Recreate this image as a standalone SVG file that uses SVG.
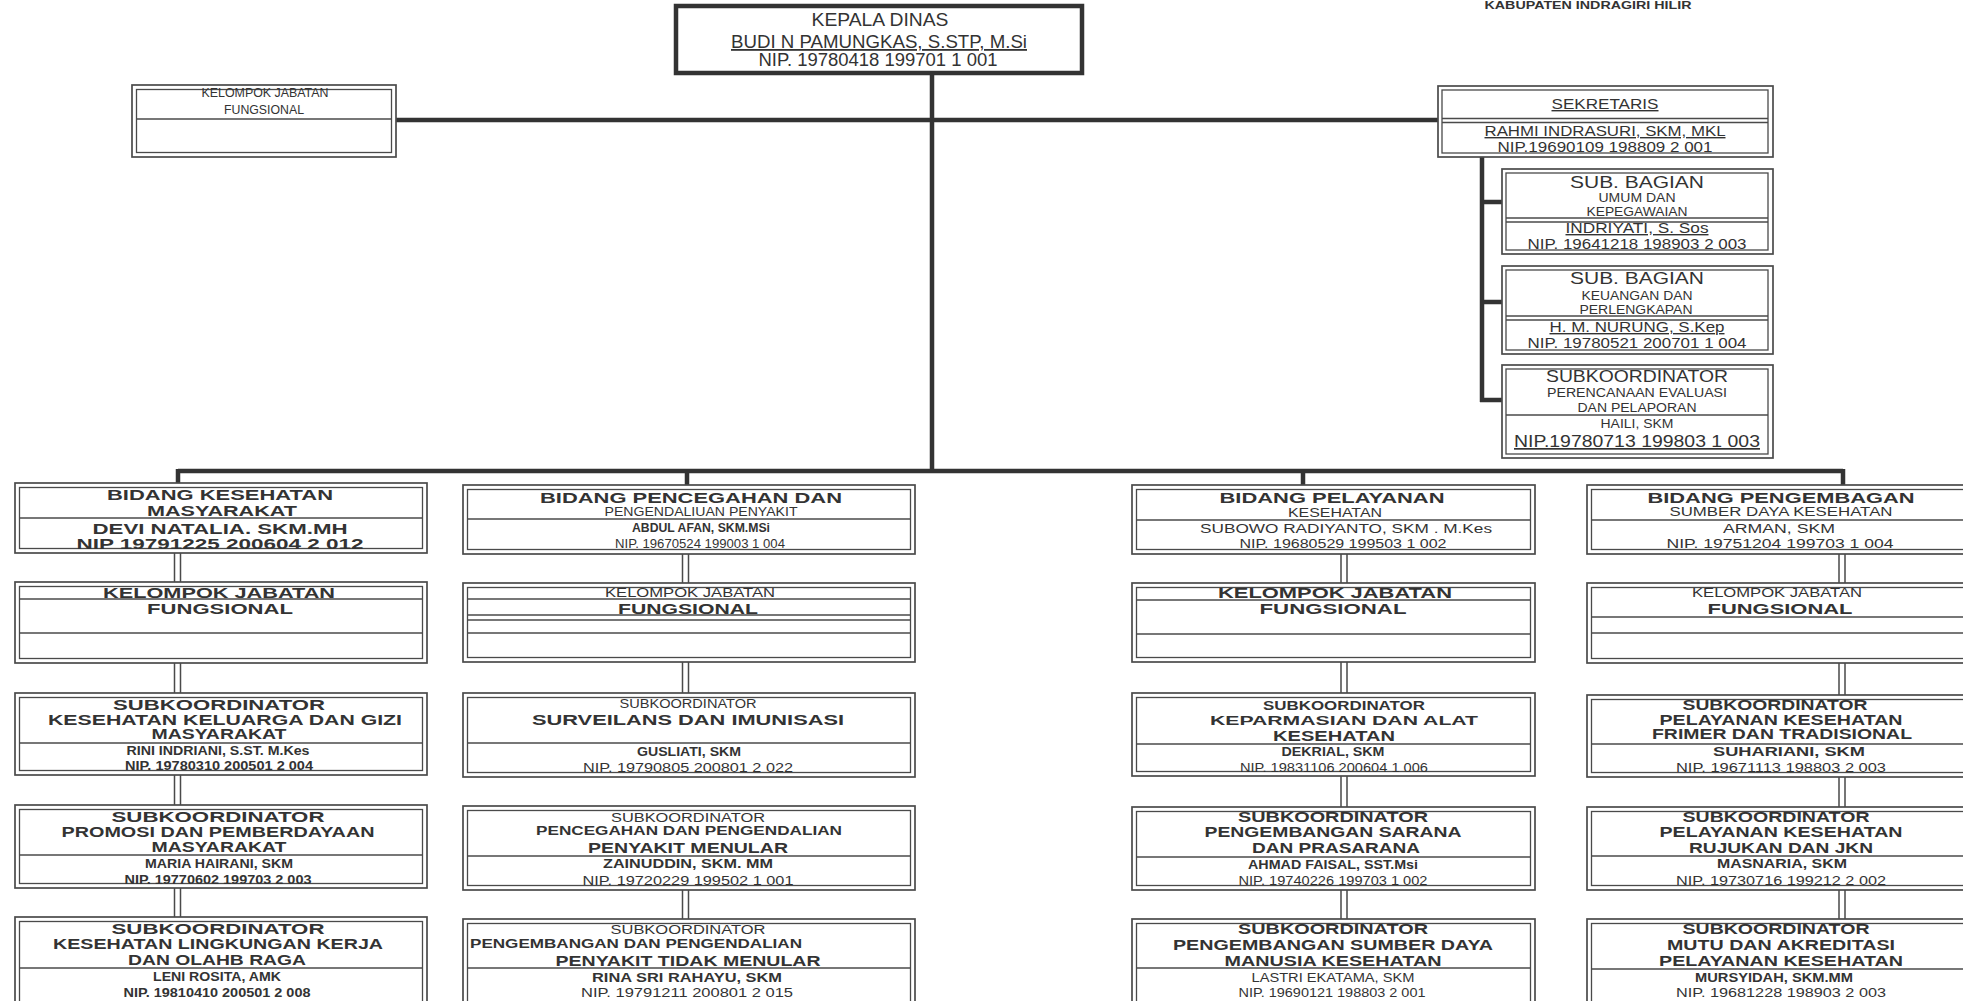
<svg xmlns="http://www.w3.org/2000/svg" width="1963" height="1001" viewBox="0 0 1963 1001">
<style>
.o{fill:#fff;stroke:#4a4a4a;stroke-width:1.7}
.i{fill:none;stroke:#4a4a4a;stroke-width:1.3}
.d{stroke:#4a4a4a;stroke-width:1.5}
.kd{fill:#fff;stroke:#333;stroke-width:4.5}
.bus{stroke:#333;stroke-width:4.5;fill:none}
.dl{stroke:#4a4a4a;stroke-width:1.5}
text{font-family:"Liberation Sans",Arial,sans-serif;fill:#333;text-anchor:middle}
.b{font-weight:bold}
.u{text-decoration:underline}
.f11{font-size:11px}.f12{font-size:12px}.f13{font-size:13px}.f14{font-size:14px}.f15{font-size:15px}.f17{font-size:17px}.f18{font-size:18px}
</style>
<rect width="1963" height="1001" fill="#fff"/>
<g id="connectors">
<path class="bus" d="M932 73V471M396 120H1438M178 471H1843M178 469V484M687 469V486M1303 469V486M1843 469V486M1482 157V402M1480 202H1502M1480 302H1502M1480 400H1502"/>
<path class="dl" d="M174.5 553V582M180.5 553V582M174.5 663V693M180.5 663V693M174.5 775V805M180.5 775V805M174.5 888V917M180.5 888V917
M682.5 554V583M688.5 554V583M682.5 662V693M688.5 662V693M682.5 890V919M688.5 890V919
M1341 554V583M1347 554V583M1341 662V693M1347 662V693M1341 776V807M1347 776V807M1341 890V919M1347 890V919
M1839 554V583M1845 554V583M1839 663V695M1845 663V695M1839 777V807M1845 777V807M1839 890V919M1845 890V919"/>
</g>
<g id="header"><text class="b f11" x="1588" y="9" textLength="207" lengthAdjust="spacingAndGlyphs">KABUPATEN INDRAGIRI HILIR</text></g>
<g id="kepala-dinas">
<rect class="kd" x="676" y="6" width="406" height="67"/>
<text class="f18" x="880" y="26" textLength="137" lengthAdjust="spacingAndGlyphs">KEPALA  DINAS</text>
<text class="f18 u" x="879" y="48" textLength="296" lengthAdjust="spacingAndGlyphs">BUDI N PAMUNGKAS, S.STP, M.Si</text>
<text class="f18" x="878" y="66" textLength="239" lengthAdjust="spacingAndGlyphs">NIP. 19780418 199701 1 001</text>
</g>
<g id="kjf-top">
<rect class="o" x="132" y="85" width="264" height="72"/><rect class="i" x="136.5" y="89.5" width="255" height="63"/>
<line class="d" x1="136" y1="119" x2="392" y2="119"/>
<text class="f12" x="265" y="97" textLength="127" lengthAdjust="spacingAndGlyphs">KELOMPOK JABATAN</text>
<text class="f12" x="264" y="114" textLength="80" lengthAdjust="spacingAndGlyphs">FUNGSIONAL</text>
</g>
<g id="sekretaris">
<rect class="o" x="1438" y="86" width="335" height="71"/><rect class="i" x="1442" y="90" width="326" height="63"/>
<line class="d" x1="1442" y1="118.5" x2="1768" y2="118.5"/><line class="d" x1="1442" y1="122.5" x2="1768" y2="122.5"/>
<text class="f14 u" x="1605" y="109" textLength="107" lengthAdjust="spacingAndGlyphs">SEKRETARIS</text>
<text class="f14 u" x="1605" y="136" textLength="241" lengthAdjust="spacingAndGlyphs">RAHMI INDRASURI, SKM, MKL</text>
<text class="f14" x="1605" y="152" textLength="215" lengthAdjust="spacingAndGlyphs">NIP.19690109 198809 2 001</text>
</g>
<g id="subbag-umum">
<rect class="o" x="1502" y="169" width="271" height="85"/><rect class="i" x="1506" y="173" width="262" height="77"/>
<line class="d" x1="1506" y1="218" x2="1768" y2="218"/><line class="d" x1="1506" y1="222" x2="1768" y2="222"/>
<text class="f17" x="1637" y="188" textLength="134" lengthAdjust="spacingAndGlyphs">SUB. BAGIAN</text>
<text class="f12" x="1637" y="202" textLength="77" lengthAdjust="spacingAndGlyphs">UMUM DAN</text>
<text class="f12" x="1637" y="216" textLength="101" lengthAdjust="spacingAndGlyphs">KEPEGAWAIAN</text>
<text class="f14 u" x="1637" y="233" textLength="143" lengthAdjust="spacingAndGlyphs">INDRIYATI, S. Sos</text>
<text class="f14" x="1637" y="249" textLength="219" lengthAdjust="spacingAndGlyphs">NIP. 19641218 198903 2 003</text>
</g>
<g id="subbag-keuangan">
<rect class="o" x="1502" y="266" width="271" height="88"/><rect class="i" x="1506" y="270" width="262" height="80"/>
<line class="d" x1="1506" y1="316" x2="1768" y2="316"/><line class="d" x1="1506" y1="320" x2="1768" y2="320"/>
<text class="f17" x="1637" y="284" textLength="134" lengthAdjust="spacingAndGlyphs">SUB. BAGIAN</text>
<text class="f12" x="1637" y="300" textLength="111" lengthAdjust="spacingAndGlyphs">KEUANGAN DAN</text>
<text class="f12" x="1636" y="314" textLength="113" lengthAdjust="spacingAndGlyphs">PERLENGKAPAN</text>
<text class="f14 u" x="1637" y="332" textLength="175" lengthAdjust="spacingAndGlyphs">H. M. NURUNG, S.Kep</text>
<text class="f14" x="1637" y="348" textLength="219" lengthAdjust="spacingAndGlyphs">NIP. 19780521 200701 1 004</text>
</g>
<g id="subkoor-perencanaan">
<rect class="o" x="1502" y="365" width="271" height="93"/><rect class="i" x="1506" y="369" width="262" height="85"/>
<line class="d" x1="1506" y1="415" x2="1768" y2="415"/>
<text class="f17" x="1637" y="382" textLength="182" lengthAdjust="spacingAndGlyphs">SUBKOORDINATOR</text>
<text class="f12" x="1637" y="397" textLength="180" lengthAdjust="spacingAndGlyphs">PERENCANAAN EVALUASI</text>
<text class="f12" x="1637" y="412" textLength="119" lengthAdjust="spacingAndGlyphs">DAN PELAPORAN</text>
<text class="f12" x="1637" y="428" textLength="73" lengthAdjust="spacingAndGlyphs">HAILI, SKM</text>
<text class="f17 u" x="1637" y="447" textLength="246" lengthAdjust="spacingAndGlyphs">NIP.19780713 199803 1 003</text>
</g>

<g id="bidang-kesmas">
<rect class="o" x="15" y="483" width="412" height="70"/><rect class="i" x="19.5" y="487.5" width="403" height="61"/>
<line class="d" x1="19" y1="518" x2="423" y2="518"/>
<text class="b f14" x="220" y="500" textLength="226" lengthAdjust="spacingAndGlyphs">BIDANG KESEHATAN</text>
<text class="b f14" x="222" y="516" textLength="150" lengthAdjust="spacingAndGlyphs">MASYARAKAT</text>
<text class="b f14" x="220" y="534" textLength="255" lengthAdjust="spacingAndGlyphs">DEVI NATALIA. SKM.MH</text>
<text class="b f14" x="220" y="549" textLength="287" lengthAdjust="spacingAndGlyphs">NIP 19791225 200604 2 012</text>
</g>
<g id="kjf-kesmas">
<rect class="o" x="15" y="582" width="412" height="81"/><rect class="i" x="19.5" y="586.5" width="403" height="72"/>
<line class="d" x1="19" y1="599" x2="423" y2="599"/><line class="d" x1="19" y1="633" x2="423" y2="633"/>
<text class="b f14" x="219" y="598" textLength="232" lengthAdjust="spacingAndGlyphs">KELOMPOK JABATAN</text>
<text class="b f14" x="220" y="614" textLength="146" lengthAdjust="spacingAndGlyphs">FUNGSIONAL</text>
</g>
<g id="subkoor-kesga">
<rect class="o" x="15" y="693" width="412" height="82"/><rect class="i" x="19.5" y="697.5" width="403" height="73"/>
<line class="d" x1="19" y1="743" x2="423" y2="743"/>
<text class="b f15" x="219" y="710" textLength="212" lengthAdjust="spacingAndGlyphs">SUBKOORDINATOR</text>
<text class="b f14" x="225" y="725" textLength="354" lengthAdjust="spacingAndGlyphs">KESEHATAN KELUARGA DAN GIZI</text>
<text class="b f14" x="219" y="739" textLength="135" lengthAdjust="spacingAndGlyphs">MASYARAKAT</text>
<text class="b f12" x="218" y="755" textLength="183" lengthAdjust="spacingAndGlyphs">RINI INDRIANI, S.ST. M.Kes</text>
<text class="b f12" x="219" y="770" textLength="188" lengthAdjust="spacingAndGlyphs">NIP. 19780310 200501 2 004</text>
</g>
<g id="subkoor-promkes">
<rect class="o" x="15" y="805" width="412" height="83"/><rect class="i" x="19.5" y="809.5" width="403" height="74"/>
<line class="d" x1="19" y1="855" x2="423" y2="855"/>
<text class="b f15" x="218" y="822" textLength="213" lengthAdjust="spacingAndGlyphs">SUBKOORDINATOR</text>
<text class="b f14" x="218" y="837" textLength="313" lengthAdjust="spacingAndGlyphs">PROMOSI DAN PEMBERDAYAAN</text>
<text class="b f14" x="219" y="852" textLength="135" lengthAdjust="spacingAndGlyphs">MASYARAKAT</text>
<text class="b f12" x="219" y="868" textLength="148" lengthAdjust="spacingAndGlyphs">MARIA HAIRANI, SKM</text>
<text class="b f12" x="218" y="884" textLength="187" lengthAdjust="spacingAndGlyphs">NIP. 19770602 199703 2 003</text>
</g>
<g id="subkoor-kesling">
<rect class="o" x="15" y="917" width="412" height="95"/><rect class="i" x="19.5" y="921.5" width="403" height="86"/>
<line class="d" x1="19" y1="968" x2="423" y2="968"/>
<text class="b f15" x="218" y="934" textLength="213" lengthAdjust="spacingAndGlyphs">SUBKOORDINATOR</text>
<text class="b f14" x="218" y="949" textLength="330" lengthAdjust="spacingAndGlyphs">KESEHATAN LINGKUNGAN KERJA</text>
<text class="b f14" x="217" y="965" textLength="178" lengthAdjust="spacingAndGlyphs">DAN OLAHB RAGA</text>
<text class="b f12" x="217" y="981" textLength="128" lengthAdjust="spacingAndGlyphs">LENI ROSITA, AMK</text>
<text class="b f12" x="217" y="997" textLength="187" lengthAdjust="spacingAndGlyphs">NIP. 19810410 200501 2 008</text>
</g>

<g id="bidang-p2p">
<rect class="o" x="463" y="485" width="452" height="69"/><rect class="i" x="467.5" y="489.5" width="443" height="60"/>
<line class="d" x1="467" y1="519" x2="911" y2="519"/>
<text class="b f15" x="691" y="503" textLength="302" lengthAdjust="spacingAndGlyphs">BIDANG PENCEGAHAN DAN</text>
<text class="f12" x="701" y="516" textLength="193" lengthAdjust="spacingAndGlyphs">PENGENDALIUAN PENYAKIT</text>
<text class="b f12" x="701" y="532" textLength="138" lengthAdjust="spacingAndGlyphs">ABDUL AFAN, SKM.MSi</text>
<text class="f12" x="700" y="548" textLength="170" lengthAdjust="spacingAndGlyphs">NIP. 19670524 199003 1 004</text>
</g>
<g id="kjf-p2p">
<rect class="o" x="463" y="583" width="452" height="79"/><rect class="i" x="467.5" y="587.5" width="443" height="70"/>
<line class="d" x1="467" y1="599" x2="911" y2="599"/><line class="d" x1="467" y1="615" x2="911" y2="615"/><line class="d" x1="467" y1="620" x2="911" y2="620"/><line class="d" x1="467" y1="633" x2="911" y2="633"/>
<text class="f12" x="690" y="597" textLength="170" lengthAdjust="spacingAndGlyphs">KELOMPOK JABATAN</text>
<text class="b f15" x="688" y="614" textLength="140" lengthAdjust="spacingAndGlyphs">FUNGSIONAL</text>
</g>
<g id="subkoor-surveilans">
<rect class="o" x="463" y="693" width="452" height="84"/><rect class="i" x="467.5" y="697.5" width="443" height="75"/>
<line class="d" x1="467" y1="743" x2="911" y2="743"/>
<text class="f12" x="688" y="708" textLength="137" lengthAdjust="spacingAndGlyphs">SUBKOORDINATOR</text>
<text class="b f15" x="688" y="725" textLength="312" lengthAdjust="spacingAndGlyphs">SURVEILANS DAN IMUNISASI</text>
<text class="b f12" x="689" y="756" textLength="104" lengthAdjust="spacingAndGlyphs">GUSLIATI, SKM</text>
<text class="f12" x="688" y="772" textLength="210" lengthAdjust="spacingAndGlyphs">NIP. 19790805 200801 2 022</text>
</g>
<g id="subkoor-pm">
<rect class="o" x="463" y="806" width="452" height="84"/><rect class="i" x="467.5" y="810.5" width="443" height="75"/>
<line class="d" x1="467" y1="856" x2="911" y2="856"/>
<text class="f12" x="688" y="822" textLength="154" lengthAdjust="spacingAndGlyphs">SUBKOORDINATOR</text>
<text class="b f12" x="689" y="835" textLength="306" lengthAdjust="spacingAndGlyphs">PENCEGAHAN DAN PENGENDALIAN</text>
<text class="b f14" x="688" y="853" textLength="200" lengthAdjust="spacingAndGlyphs">PENYAKIT MENULAR</text>
<text class="b f13" x="688" y="868" textLength="170" lengthAdjust="spacingAndGlyphs">ZAINUDDIN, SKM. MM</text>
<text class="f13" x="688" y="885" textLength="211" lengthAdjust="spacingAndGlyphs">NIP. 19720229 199502 1 001</text>
</g>
<g id="subkoor-ptm">
<rect class="o" x="463" y="919" width="452" height="95"/><rect class="i" x="467.5" y="923.5" width="443" height="86"/>
<line class="d" x1="467" y1="968" x2="911" y2="968"/>
<text class="f12" x="688" y="934" textLength="155" lengthAdjust="spacingAndGlyphs">SUBKOORDINATOR</text>
<text class="b f12" x="636" y="948" textLength="332" lengthAdjust="spacingAndGlyphs">PENGEMBANGAN DAN PENGENDALIAN</text>
<text class="b f14" x="688" y="966" textLength="265" lengthAdjust="spacingAndGlyphs">PENYAKIT TIDAK MENULAR</text>
<text class="b f13" x="687" y="982" textLength="190" lengthAdjust="spacingAndGlyphs">RINA SRI RAHAYU, SKM</text>
<text class="f13" x="687" y="997" textLength="212" lengthAdjust="spacingAndGlyphs">NIP. 19791211 200801 2 015</text>
</g>

<g id="bidang-yankes">
<rect class="o" x="1132" y="485" width="403" height="69"/><rect class="i" x="1136.5" y="489.5" width="394" height="60"/>
<line class="d" x1="1136" y1="520" x2="1531" y2="520"/>
<text class="b f14" x="1332" y="503" textLength="225" lengthAdjust="spacingAndGlyphs">BIDANG PELAYANAN</text>
<text class="f12" x="1335" y="517" textLength="94" lengthAdjust="spacingAndGlyphs">KESEHATAN</text>
<text class="f12" x="1346" y="533" textLength="292" lengthAdjust="spacingAndGlyphs">SUBOWO RADIYANTO, SKM . M.Kes</text>
<text class="f12" x="1343" y="548" textLength="207" lengthAdjust="spacingAndGlyphs">NIP. 19680529 199503 1 002</text>
</g>
<g id="kjf-yankes">
<rect class="o" x="1132" y="583" width="403" height="79"/><rect class="i" x="1136.5" y="587.5" width="394" height="70"/>
<line class="d" x1="1136" y1="600" x2="1531" y2="600"/><line class="d" x1="1136" y1="634" x2="1531" y2="634"/>
<text class="b f14" x="1335" y="598" textLength="234" lengthAdjust="spacingAndGlyphs">KELOMPOK JABATAN</text>
<text class="b f14" x="1333" y="614" textLength="147" lengthAdjust="spacingAndGlyphs">FUNGSIONAL</text>
</g>
<g id="subkoor-farmasi">
<rect class="o" x="1132" y="693" width="403" height="83"/><rect class="i" x="1136.5" y="697.5" width="394" height="74"/>
<line class="d" x1="1136" y1="744" x2="1531" y2="744"/>
<text class="b f13" x="1344" y="710" textLength="162" lengthAdjust="spacingAndGlyphs">SUBKOORDINATOR</text>
<text class="b f13" x="1344" y="725" textLength="268" lengthAdjust="spacingAndGlyphs">KEPARMASIAN DAN ALAT</text>
<text class="b f14" x="1334" y="741" textLength="122" lengthAdjust="spacingAndGlyphs">KESEHATAN</text>
<text class="b f12" x="1333" y="756" textLength="103" lengthAdjust="spacingAndGlyphs">DEKRIAL, SKM</text>
<text class="f12" x="1334" y="772" textLength="188" lengthAdjust="spacingAndGlyphs">NIP. 19831106 200604 1 006</text>
</g>
<g id="subkoor-sarpras">
<rect class="o" x="1132" y="807" width="403" height="83"/><rect class="i" x="1136.5" y="811.5" width="394" height="74"/>
<line class="d" x1="1136" y1="857" x2="1531" y2="857"/>
<text class="b f15" x="1333" y="822" textLength="190" lengthAdjust="spacingAndGlyphs">SUBKOORDINATOR</text>
<text class="b f15" x="1333" y="837" textLength="257" lengthAdjust="spacingAndGlyphs">PENGEMBANGAN SARANA</text>
<text class="b f15" x="1336" y="853" textLength="168" lengthAdjust="spacingAndGlyphs">DAN PRASARANA</text>
<text class="b f12" x="1333" y="869" textLength="170" lengthAdjust="spacingAndGlyphs">AHMAD FAISAL, SST.Msi</text>
<text class="f12" x="1333" y="885" textLength="189" lengthAdjust="spacingAndGlyphs">NIP. 19740226 199703 1 002</text>
</g>
<g id="subkoor-sdmk">
<rect class="o" x="1132" y="919" width="403" height="95"/><rect class="i" x="1136.5" y="923.5" width="394" height="86"/>
<line class="d" x1="1136" y1="968" x2="1531" y2="968"/>
<text class="b f15" x="1333" y="934" textLength="190" lengthAdjust="spacingAndGlyphs">SUBKOORDINATOR</text>
<text class="b f15" x="1333" y="950" textLength="320" lengthAdjust="spacingAndGlyphs">PENGEMBANGAN SUMBER DAYA</text>
<text class="b f15" x="1333" y="966" textLength="217" lengthAdjust="spacingAndGlyphs">MANUSIA KESEHATAN</text>
<text class="f12" x="1333" y="982" textLength="163" lengthAdjust="spacingAndGlyphs">LASTRI EKATAMA, SKM</text>
<text class="f12" x="1332" y="997" textLength="187" lengthAdjust="spacingAndGlyphs">NIP. 19690121 198803 2 001</text>
</g>

<g id="bidang-sdk">
<rect class="o" x="1587" y="485" width="388" height="69"/><rect class="i" x="1591.5" y="489.5" width="379" height="60"/>
<line class="d" x1="1591" y1="520" x2="1971" y2="520"/>
<text class="b f15" x="1781" y="503" textLength="267" lengthAdjust="spacingAndGlyphs">BIDANG PENGEMBAGAN</text>
<text class="f12" x="1781" y="516" textLength="223" lengthAdjust="spacingAndGlyphs">SUMBER DAYA KESEHATAN</text>
<text class="f12" x="1779" y="533" textLength="112" lengthAdjust="spacingAndGlyphs">ARMAN, SKM</text>
<text class="f12" x="1780" y="548" textLength="227" lengthAdjust="spacingAndGlyphs">NIP. 19751204 199703 1 004</text>
</g>
<g id="kjf-sdk">
<rect class="o" x="1587" y="583" width="388" height="80"/><rect class="i" x="1591.5" y="587.5" width="379" height="71"/>
<line class="d" x1="1591" y1="617" x2="1971" y2="617"/><line class="d" x1="1591" y1="633" x2="1971" y2="633"/>
<text class="f12" x="1777" y="597" textLength="170" lengthAdjust="spacingAndGlyphs">KELOMPOK JABATAN</text>
<text class="b f15" x="1780" y="614" textLength="145" lengthAdjust="spacingAndGlyphs">FUNGSIONAL</text>
</g>
<g id="subkoor-primer">
<rect class="o" x="1587" y="695" width="388" height="82"/><rect class="i" x="1591.5" y="699.5" width="379" height="73"/>
<line class="d" x1="1591" y1="744" x2="1971" y2="744"/>
<text class="b f14" x="1775" y="710" textLength="185" lengthAdjust="spacingAndGlyphs">SUBKOORDINATOR</text>
<text class="b f14" x="1781" y="725" textLength="243" lengthAdjust="spacingAndGlyphs">PELAYANAN KESEHATAN</text>
<text class="b f14" x="1782" y="739" textLength="260" lengthAdjust="spacingAndGlyphs">FRIMER DAN TRADISIONAL</text>
<text class="b f12" x="1789" y="756" textLength="152" lengthAdjust="spacingAndGlyphs">SUHARIANI, SKM</text>
<text class="f12" x="1781" y="772" textLength="210" lengthAdjust="spacingAndGlyphs">NIP. 19671113 198803 2 003</text>
</g>
<g id="subkoor-rujukan">
<rect class="o" x="1587" y="807" width="388" height="83"/><rect class="i" x="1591.5" y="811.5" width="379" height="74"/>
<line class="d" x1="1591" y1="856" x2="1971" y2="856"/>
<text class="b f14" x="1776" y="822" textLength="187" lengthAdjust="spacingAndGlyphs">SUBKOORDINATOR</text>
<text class="b f14" x="1781" y="837" textLength="243" lengthAdjust="spacingAndGlyphs">PELAYANAN KESEHATAN</text>
<text class="b f14" x="1781" y="853" textLength="184" lengthAdjust="spacingAndGlyphs">RUJUKAN DAN JKN</text>
<text class="b f12" x="1782" y="868" textLength="130" lengthAdjust="spacingAndGlyphs">MASNARIA, SKM</text>
<text class="f12" x="1781" y="885" textLength="210" lengthAdjust="spacingAndGlyphs">NIP. 19730716 199212 2 002</text>
</g>
<g id="subkoor-mutu">
<rect class="o" x="1587" y="919" width="388" height="95"/><rect class="i" x="1591.5" y="923.5" width="379" height="86"/>
<line class="d" x1="1591" y1="969" x2="1971" y2="969"/>
<text class="b f14" x="1776" y="934" textLength="187" lengthAdjust="spacingAndGlyphs">SUBKOORDINATOR</text>
<text class="b f14" x="1781" y="950" textLength="228" lengthAdjust="spacingAndGlyphs">MUTU DAN AKREDITASI</text>
<text class="b f14" x="1781" y="966" textLength="244" lengthAdjust="spacingAndGlyphs">PELAYANAN KESEHATAN</text>
<text class="b f12" x="1774" y="982" textLength="158" lengthAdjust="spacingAndGlyphs">MURSYIDAH, SKM.MM</text>
<text class="f12" x="1781" y="997" textLength="210" lengthAdjust="spacingAndGlyphs">NIP. 19681228 198903 2 003</text>
</g>
</svg>
